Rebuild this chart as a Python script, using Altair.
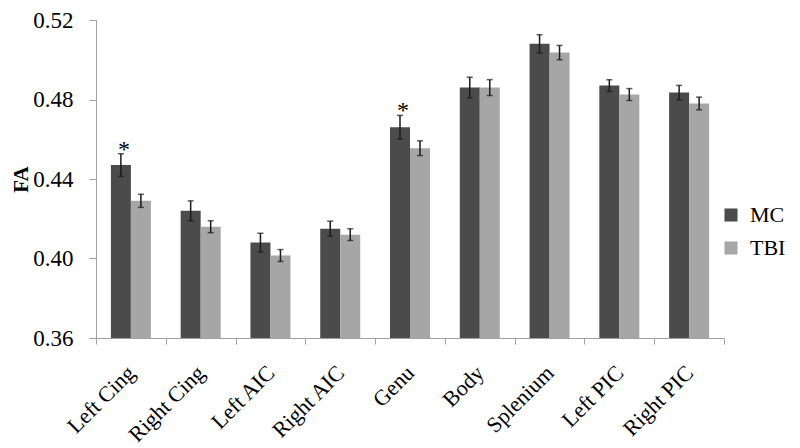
import altair as alt
import pandas as pd

regions = ["Left Cing", "Right Cing", "Left AIC", "Right AIC", "Genu",
           "Body", "Splenium", "Left PIC", "Right PIC"]
groups = ["MC", "TBI"]
mc = [0.447, 0.424, 0.408, 0.415, 0.466, 0.486, 0.508, 0.487, 0.4835]
tbi = [0.429, 0.416, 0.4015, 0.412, 0.4555, 0.486, 0.5036, 0.4825, 0.478]
mc_err = [0.0057, 0.005, 0.0047, 0.0038, 0.006, 0.0052, 0.0046, 0.003, 0.0036]
tbi_err = [0.0033, 0.003, 0.003, 0.003, 0.0037, 0.004, 0.0036, 0.003, 0.0032]
significant = ["Left Cing", "Genu"]
y_ticks = [0.36, 0.40, 0.44, 0.48, 0.52]

rows = []
for i, r in enumerate(regions):
    rows.append({"region": r, "group": "MC", "fa": mc[i], "err": mc_err[i]})
    rows.append({"region": r, "group": "TBI", "fa": tbi[i], "err": tbi_err[i]})
df = pd.DataFrame(rows)
df["lo"] = df["fa"] - df["err"]
df["hi"] = df["fa"] + df["err"]
stars = df[(df["group"] == "MC") & (df["region"].isin(significant))]

FONT = "Liberation Serif"
AXIS_GRAY = "#a0a0a0"
PLOT_H = 318

x = alt.X("region:N", sort=regions, title=None,
          scale=alt.Scale(paddingInner=0, paddingOuter=0),
          axis=alt.Axis(labelAngle=-45, labelAlign="right", labelBaseline="middle",
                        labelPadding=25, tickBand="extent", tickSize=6,
                        domainColor=AXIS_GRAY, tickColor=AXIS_GRAY,
                        labelFont=FONT, labelFontSize=22, labelColor="black",
                        labelOverlap=False))
xo = alt.XOffset("group:N", sort=groups,
                 scale=alt.Scale(paddingInner=0, paddingOuter=0.745))
yscale = alt.Scale(domain=[0.36, 0.52], zero=False, nice=False)
y = alt.Y("fa:Q", scale=yscale,
          axis=alt.Axis(values=y_ticks, format=".2f", grid=False, title="FA",
                        titleFont=FONT, titleFontSize=21, titleFontWeight="bold",
                        titleColor="black", titleX=-75, titleY=PLOT_H / 2,
                        titleAlign="center", titleBaseline="middle", titleAngle=-90,
                        labelFont=FONT, labelFontSize=23, labelColor="black",
                        labelPadding=16, tickSize=7,
                        domainColor=AXIS_GRAY, tickColor=AXIS_GRAY))
color = alt.Color("group:N",
                  scale=alt.Scale(domain=groups, range=["#4b4b4b", "#a6a6a6"]),
                  legend=alt.Legend(title=None, orient="none", legendX=624, legendY=184,
                                    padding=0, symbolType="square", symbolSize=170,
                                    symbolStrokeWidth=0, labelFont=FONT,
                                    labelFontSize=22, labelColor="black",
                                    rowPadding=11, labelOffset=8))

base = alt.Chart(df)
bars = base.mark_bar().encode(x=x, xOffset=xo, y=y, y2=alt.datum(0.36), color=color)
err = base.mark_rule(color="#1a1a1a", strokeWidth=1.5).encode(
    x=x, xOffset=xo, y="lo:Q", y2="hi:Q")
cap_hi = base.mark_tick(color="#1a1a1a", thickness=1.5, size=6).encode(
    x=x, xOffset=xo, y="hi:Q")
cap_lo = base.mark_tick(color="#1a1a1a", thickness=1.5, size=6).encode(
    x=x, xOffset=xo, y="lo:Q")
star = alt.Chart(stars).mark_text(text="*", font=FONT, fontSize=24, baseline="middle",
                                  dy=-4, dx=3, color="black").encode(
    x=x, xOffset=xo, y="hi:Q")

chart = alt.layer(bars, err, cap_hi, cap_lo, star).properties(
    width=628, height=PLOT_H,
    autosize=alt.AutoSizeParams(type="none"),
    padding={"left": 88, "top": 12, "right": 68, "bottom": 110},
).configure_view(stroke=None)

chart.save("out.html", embed_options={"renderer": "svg", "actions": False})
